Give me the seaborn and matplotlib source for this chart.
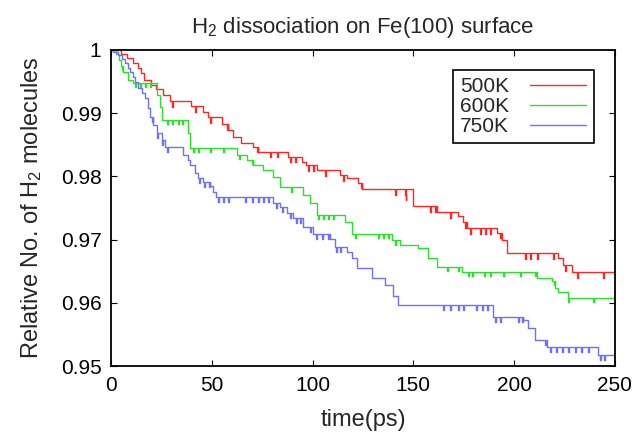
import numpy as np
import pandas as pd
import matplotlib
matplotlib.use("Agg")
import matplotlib.pyplot as plt
import seaborn as sns

# step curves: time (ps) where a new level starts, and the level
t_500 = [0, 5.0, 7.9, 10.9, 13.4, 14.9, 16.4, 19.8, 22.3, 25.8, 29.3, 39.7, 45.6, 48.1,
         55.1, 58.0, 60.5, 64.5, 70.4, 72.9, 87.8, 94.7, 96.7, 102.2, 113.6, 117.1, 122.5,
         124.5, 146.3, 149.8, 161.7, 172.1, 174.6, 176.6, 191.5, 193.9, 196.4, 221.7,
         224.2, 228.7]
v_500 = [1.0, 0.9994, 0.9987, 0.9979, 0.9972, 0.9964, 0.9953, 0.9945, 0.9938, 0.9929,
         0.9919, 0.9911, 0.9902, 0.9894, 0.9883, 0.9873, 0.9862, 0.9853, 0.9847, 0.9839,
         0.9831, 0.9823, 0.9818, 0.9810, 0.9802, 0.9798, 0.9790, 0.9780, 0.9763, 0.9753,
         0.9744, 0.9737, 0.9728, 0.9718, 0.9711, 0.9699, 0.9679, 0.9671, 0.9660, 0.9649]

t_600 = [0, 2.5, 4.0, 5.0, 6.0, 8.4, 10.9, 22.8, 24.3, 25.3, 38.2, 39.2, 62.5, 67.5,
         70.4, 75.4, 80.4, 83.8, 95.2, 98.7, 102.2, 116.1, 119.5, 139.4, 143.3, 152.3,
         157.2, 161.7, 174.1, 211.3, 218.7, 220.2, 221.7, 226.7]
v_600 = [1.0, 0.9994, 0.9984, 0.9975, 0.9965, 0.9953, 0.9948, 0.9929, 0.9910, 0.9889,
         0.9869, 0.9845, 0.9834, 0.9826, 0.9818, 0.9810, 0.9799, 0.9783, 0.9771, 0.9758,
         0.9739, 0.9728, 0.9709, 0.9699, 0.9692, 0.9687, 0.9671, 0.9657, 0.9649, 0.9639,
         0.9635, 0.9624, 0.9617, 0.9608]

t_750 = [0, 1.0, 3.5, 5.5, 6.9, 8.4, 9.4, 10.9, 11.9, 13.4, 15.4, 16.9, 18.4, 19.3,
         20.8, 22.8, 25.3, 26.8, 35.7, 38.2, 39.2, 41.7, 43.2, 45.6, 49.1, 50.6, 52.1,
         80.4, 83.8, 87.3, 90.3, 95.2, 100.2, 108.6, 111.1, 117.1, 119.5, 122.0, 129.5,
         135.9, 139.9, 142.4, 189.5, 204.4, 206.8, 210.3, 216.3, 241.6]
v_750 = [1.0, 0.9997, 0.9992, 0.9986, 0.9979, 0.9972, 0.9965, 0.9957, 0.9949, 0.9940,
         0.9932, 0.9924, 0.9908, 0.9894, 0.9881, 0.9869, 0.9858, 0.9847, 0.9834, 0.9826,
         0.9818, 0.9805, 0.9798, 0.9791, 0.9785, 0.9775, 0.9767, 0.9758, 0.9752, 0.9742,
         0.9734, 0.9720, 0.9709, 0.9701, 0.9688, 0.9680, 0.9671, 0.9655, 0.9639, 0.9628,
         0.9611, 0.9597, 0.9578, 0.9573, 0.9560, 0.9541, 0.9530, 0.9518]

# short one-molecule dips (times in ps)
spikes_500 = [30.3, 41.7, 49.1, 57.5, 72.4, 78.9, 82.3, 88.8, 91.3, 97.7, 100.2, 106.1,
              115.1, 124.0, 140.9, 146.0, 158.2, 160.7, 168.1, 175.6, 178.1, 183.0, 185.5,
              188.0, 193.0, 205.3, 207.8, 211.3, 219.2, 225.2, 231.1, 244.0]
spikes_600 = [5.5, 11.9, 14.4, 16.9, 19.3, 27.8, 30.3, 33.2, 35.2, 40.7, 43.2, 49.1, 55.6,
              63.5, 69.9, 89.3, 102.7, 105.2, 107.6, 110.1, 121.0, 132.4, 134.9, 137.4,
              140.9, 166.7, 172.1, 177.1, 179.1, 185.0, 188.0, 194.4, 202.9, 210.3, 219.7,
              226.7, 239.1]
spikes_750 = [20.3, 22.8, 25.3, 27.8, 43.6, 46.1, 48.6, 53.1, 55.6, 58.0, 66.5, 69.9,
              72.9, 75.4, 77.9, 81.8, 84.8, 88.8, 91.8, 93.7, 98.7, 101.7, 104.7, 107.6,
              111.6, 113.6, 164.7, 168.1, 172.1, 174.6, 181.0, 184.0, 186.5, 190.5, 193.0,
              201.9, 203.9, 215.3, 217.7, 220.7, 223.7, 226.7, 230.1, 233.1, 236.6, 242.5,
              244.5]
spike_depth = {"500K": 0.0009, "600K": 0.0007, "750K": 0.0008}

series = {"500K": (t_500, v_500, spikes_500),
          "600K": (t_600, v_600, spikes_600),
          "750K": (t_750, v_750, spikes_750)}
colors = {"500K": "#ff2626", "600K": "#2ee02e", "750K": "#7070ff"}
t_end = 250


def build(name):
    t, v, sp = series[name]
    t = np.asarray(t, float)
    v = np.asarray(v, float)
    pts = list(zip(t, v))
    for s in sp:
        lvl = v[np.searchsorted(t, s, side="right") - 1]
        pts.append((s, lvl - spike_depth[name]))
        pts.append((s + 0.45, lvl))
    pts.append((t_end, v[-1]))
    pts.sort(key=lambda p: p[0])
    return pd.DataFrame(pts, columns=["time", "value"])


sns.set_style("ticks")
plt.rcParams["font.family"] = ["Liberation Sans", "DejaVu Sans"]
plt.rcParams["mathtext.default"] = "regular"

fig = plt.figure(figsize=(6.39, 4.37), dpi=100)
ax = fig.add_axes([0.174, 0.162, 0.788, 0.724])

for name in series:
    df = build(name)
    sns.lineplot(data=df, x="time", y="value", color=colors[name], label=name,
                 estimator=None, sort=False, drawstyle="steps-post", lw=1.0, ax=ax)

ax.set_xlim(0, 250)
ax.set_ylim(0.95, 1.0)
ax.set_xticks([0, 50, 100, 150, 200, 250])
ax.set_yticks([0.95, 0.96, 0.97, 0.98, 0.99, 1.0])
ax.set_yticklabels([f"{y:g}" for y in ax.get_yticks()])
ax.tick_params(axis="both", direction="in", length=4, width=0.8, top=True, right=True,
               labelsize=15, pad=7, colors="black")
for sp in ax.spines.values():
    sp.set_visible(True)
    sp.set_color("black")
    sp.set_linewidth(1.3)

ax.set_xlabel("time(ps)", fontsize=17, labelpad=10)
ax.set_ylabel("Relative No. of H$_2$ molecules", fontsize=17, labelpad=12)
ax.set_title("H$_2$ dissociation on Fe(100) surface", fontsize=16, pad=12)

leg = ax.legend(loc="upper right", bbox_to_anchor=(0.958, 0.937), markerfirst=False,
                fontsize=15, frameon=True, fancybox=False, edgecolor="black",
                framealpha=1, handlelength=2.7, handletextpad=1.0, labelspacing=0.05,
                borderpad=0.35, borderaxespad=0)
leg.get_frame().set_linewidth(1.2)

fig.savefig("out.png", dpi=100)
